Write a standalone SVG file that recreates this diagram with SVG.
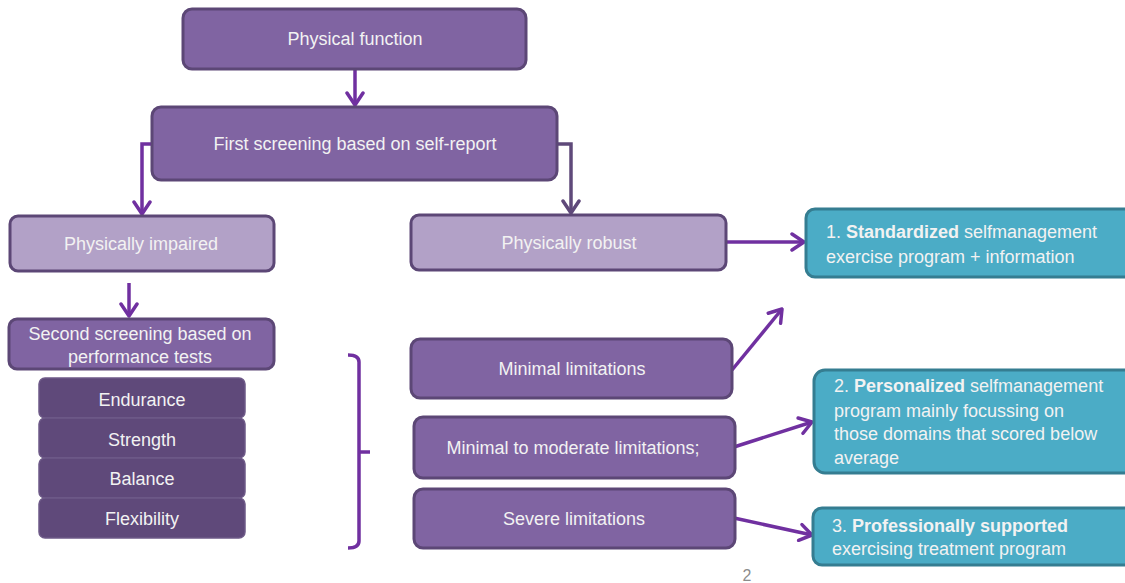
<svg xmlns="http://www.w3.org/2000/svg" width="1125" height="583" viewBox="0 0 1125 583">
<defs>
<style>
.n{fill:#8064a2;stroke:#5c4776;stroke-width:3}
.l{fill:#b2a1c7;stroke:#5c4776;stroke-width:3}
.d{fill:#5f497a;stroke:#6e5a88;stroke-width:1.5}
.t{fill:#4bacc6;stroke:#357d91;stroke-width:3}
text{font-family:"Liberation Sans",Arial,sans-serif;font-size:18px;fill:#f2f2f2}
.c{text-anchor:middle}
.b{font-weight:bold}
.e{fill:none;stroke:#7030a0;stroke-width:3.5}
.e2{fill:none;stroke:#5f497a;stroke-width:3.5}
</style>
<marker id="a" viewBox="0 0 16 20" refX="14" refY="10" markerWidth="16" markerHeight="20" markerUnits="userSpaceOnUse" orient="auto">
<path d="M2,2 L14,10 L2,18" fill="none" stroke="#7030a0" stroke-width="3.5" stroke-linecap="round" stroke-linejoin="round"/>
</marker>
<marker id="a2" viewBox="0 0 16 20" refX="14" refY="10" markerWidth="16" markerHeight="20" markerUnits="userSpaceOnUse" orient="auto">
<path d="M2,2 L14,10 L2,18" fill="none" stroke="#5f497a" stroke-width="3.5" stroke-linecap="round" stroke-linejoin="round"/>
</marker>
</defs>
<rect width="1125" height="583" fill="#ffffff"/>
<g id="connectors">
<path class="e" d="M355,69 L355,105" marker-end="url(#a)"/>
<path class="e" d="M152,144 L142,144 L142,214" marker-end="url(#a)"/>
<path class="e2" d="M557,144 L571,144 L571,213" marker-end="url(#a2)"/>
<path class="e" d="M129,283 L129,316" marker-end="url(#a)"/>
<path class="e" d="M727,242 L804,242" marker-end="url(#a)"/>
<path class="e" d="M732,370 L782,309" marker-end="url(#a)"/>
<path class="e" d="M734,447 L812,422" marker-end="url(#a)"/>
<path class="e" d="M734,518 L812,535" marker-end="url(#a)"/>
<path class="e" d="M348,355 Q359,355 359,362 L359,541 Q359,548 348,548 M359,452 L370,452" stroke-width="3"/>
</g>
<g id="physical-function"><rect class="n" x="183" y="9" width="343" height="60" rx="9"/><text class="c" x="355" y="45">Physical function</text></g>
<g id="first-screening"><rect class="n" x="152" y="107" width="405" height="73" rx="9"/><text class="c" x="355" y="150">First screening based on self-report</text></g>
<g id="physically-impaired"><rect class="l" x="10" y="216" width="264" height="55" rx="8"/><text class="c" x="141" y="250">Physically impaired</text></g>
<g id="physically-robust"><rect class="l" x="411" y="215" width="315" height="55" rx="8"/><text class="c" x="569" y="249">Physically robust</text></g>
<g id="program-1"><rect class="t" x="806" y="209" width="330" height="68" rx="9"/><text x="826" y="238">1. <tspan class="b">Standardized</tspan> selfmanagement</text><text x="826" y="263">exercise program + information</text></g>
<g id="second-screening"><rect class="n" x="9" y="319" width="265" height="50" rx="8"/><text class="c" x="140" y="340">Second screening based on</text><text class="c" x="140" y="363">performance tests</text></g>
<g id="endurance"><rect class="d" x="39" y="378" width="206" height="40" rx="6"/><text class="c" x="142" y="406">Endurance</text></g>
<g id="strength"><rect class="d" x="39" y="418" width="206" height="40" rx="6"/><text class="c" x="142" y="446">Strength</text></g>
<g id="balance"><rect class="d" x="39" y="458" width="206" height="40" rx="6"/><text class="c" x="142" y="485">Balance</text></g>
<g id="flexibility"><rect class="d" x="39" y="498" width="206" height="40" rx="6"/><text class="c" x="142" y="525">Flexibility</text></g>
<g id="minimal"><rect class="n" x="411" y="339" width="321" height="59" rx="9"/><text class="c" x="572" y="375">Minimal limitations</text></g>
<g id="minimal-moderate"><rect class="n" x="414" y="417" width="321" height="61" rx="9"/><text class="c" x="573" y="454">Minimal to moderate limitations;</text></g>
<g id="severe"><rect class="n" x="414" y="489" width="321" height="59" rx="9"/><text class="c" x="574" y="525">Severe limitations</text></g>
<g id="program-2"><rect class="t" x="814" y="370" width="330" height="103" rx="11"/><text x="834" y="392">2. <tspan class="b">Personalized</tspan> selfmanagement</text><text x="834" y="417">program mainly focussing on</text><text x="834" y="440">those domains that scored below</text><text x="834" y="464">average</text></g>
<g id="program-3"><rect class="t" x="813" y="508" width="330" height="57" rx="9"/><text x="832" y="532">3. <tspan class="b">Professionally supported</tspan></text><text x="832" y="555">exercising treatment program</text></g>
<text x="747" y="581" class="c" style="fill:#8c8c8c;font-size:16px">2</text>
</svg>
